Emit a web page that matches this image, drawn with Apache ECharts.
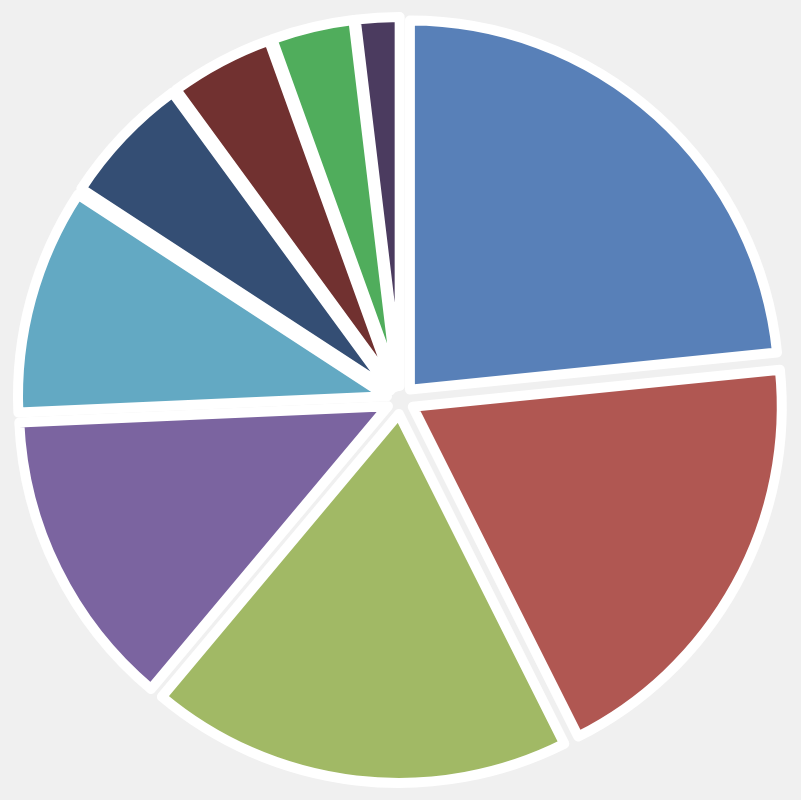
<!DOCTYPE html>
<html>
<head>
<meta charset="utf-8">
<script src="https://cdn.jsdelivr.net/npm/echarts@6/dist/echarts.min.js"></script>
<style>
  html, body { margin: 0; padding: 0; background: #f0f0f0; }
  #main { width: 801px; height: 800px; }
</style>
</head>
<body>
<div id="main"></div>
<script>
// slices, clockwise from 12 o'clock
var names = ['A', 'B', 'C', 'D', 'E', 'F', 'G', 'H', 'I'];
var values = [23.4, 19.2, 18.5, 13.2, 9.9, 5.75, 4.55, 3.6, 1.9];
var colors = ['#5880b8', '#b05752', '#a1b965', '#7b64a0', '#63a9c3',
              '#344e74', '#713130', '#50ad5c', '#4b3b5f'];

var data = names.map(function (n, i) {
  return { name: n, value: values[i], selected: true, itemStyle: { color: colors[i] } };
});

var myChart = echarts.init(document.getElementById('main'));
var option = {
  backgroundColor: '#f0f0f0',
  animation: false,
  series: [{
    type: 'pie',
    center: ['50%', '50%'],
    radius: [0, 369],
    startAngle: 90,
    clockwise: true,
    selectedMode: 'multiple',
    selectedOffset: 14,
    data: data,
    label: { show: false },
    labelLine: { show: false },
    itemStyle: {
      borderColor: '#ffffff',
      borderWidth: 10,
      borderJoin: 'round'
    },
    select: {
      itemStyle: { borderColor: '#ffffff', borderWidth: 10 }
    },
    emphasis: { scale: false }
  }]
};
myChart.setOption(option);
</script>
</body>
</html>
